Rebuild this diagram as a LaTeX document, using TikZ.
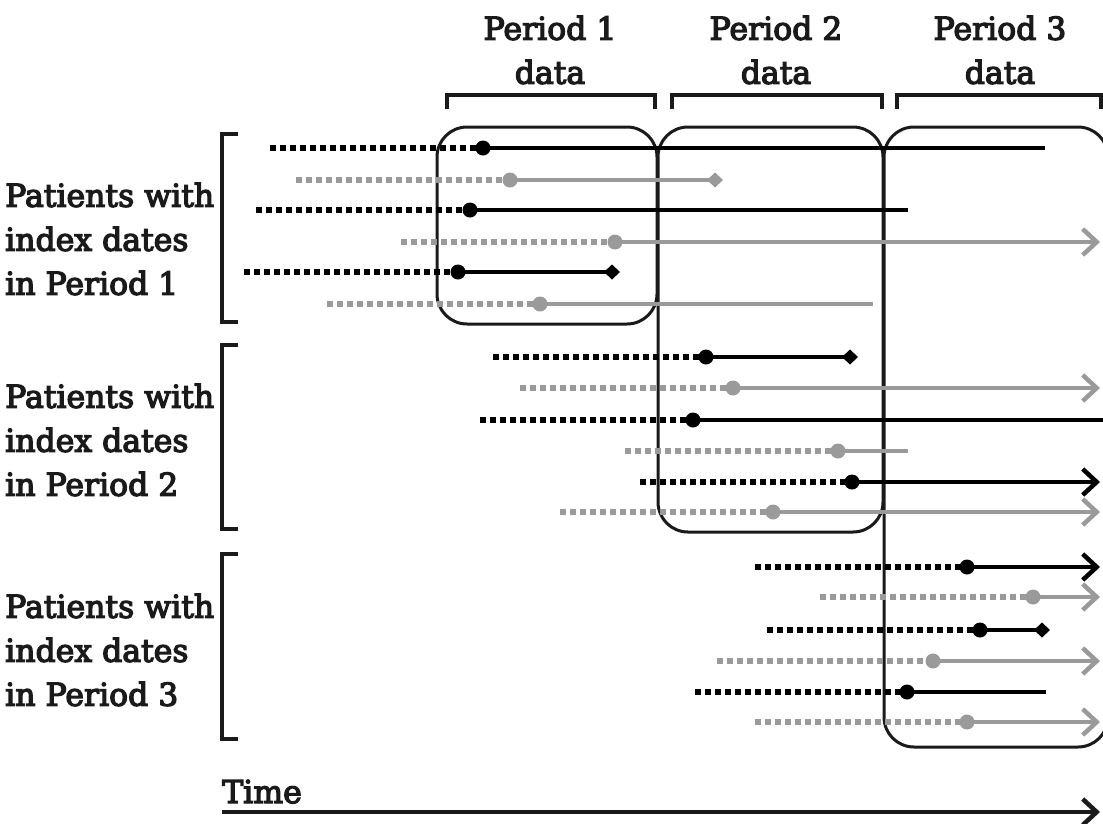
\documentclass[tikz,border=0pt]{standalone}
\usepackage{fontspec}
\setmainfont{DejaVu Serif}[FakeBold=4]
\usetikzlibrary{arrows.meta}
\definecolor{ink}{HTML}{1A1A1A}
\definecolor{lgray}{HTML}{9A9A9A}
\tikzset{
  box/.style={draw=ink, line width=3pt, rounded corners=30pt},
  brk/.style={draw=ink, line width=4pt},
  lbl/.style={font=\fontsize{31.5}{44}\selectfont, text=ink, inner sep=0pt, align=left},
  toplbl/.style={font=\fontsize{31.5}{44}\selectfont, text=ink, inner sep=0pt, align=center},
  dotline/.style={line width=5.5pt, dash pattern=on 5.5pt off 4.5pt},
  solidline/.style={line width=4.5pt},
  blk/.style={color=black},
  gry/.style={color=lgray},
  plainend/.style={},
  arrowend/.style={-{Straight Barb[length=14pt,width=26pt,line width=4.5pt]}},
  diamondend/.style={-{Diamond[length=16pt,width=15pt]}},
}
\begin{document}
\begin{tikzpicture}[x=1pt,y=-1pt]
\useasboundingbox (0,0) rectangle (1103,823);
\begin{scope}
\clip (0,0) rectangle (1103,823);
% period boxes
\draw[box] (437,127) rectangle (657,324);
\draw[box] (658,127) rectangle (883,532);
\draw[box] (884,127) rectangle (1108,747);
% top brackets
\draw[brk] (447,109) -- (447,95) -- (655,95) -- (655,109);
\draw[brk] (672,109) -- (672,95) -- (882,95) -- (882,109);
\draw[brk] (897,109) -- (897,95) -- (1101,95) -- (1101,109);
% left brackets
\draw[brk] (238,134) -- (222,134) -- (222,322) -- (238,322);
\draw[brk] (238,345) -- (222,345) -- (222,529) -- (238,529);
\draw[brk] (238,554) -- (222,554) -- (222,739) -- (238,739);
% rows
\foreach \y/\xs/\xd/\xe/\c/\tip [count=\i] in {
  148/270/483/1045/blk/plainend,
  180/296/510/723/gry/diamondend,
  210/256/470/908/blk/plainend,
  242/401/615/1100/gry/arrowend,
  272/244/458/620/blk/diamondend,
  304/327/540/873/gry/plainend,
  357/493/706/858/blk/diamondend,
  388/520/733/1100/gry/arrowend,
  420/480/693/1108/blk/plainend,
  451/625/838/908/gry/plainend,
  482/640/852/1100/blk/arrowend,
  512/560/773/1100/gry/arrowend,
  567/755/967/1100/blk/arrowend,
  597/820/1033/1100/gry/arrowend,
  630/767/980/1050/blk/diamondend,
  661/717/933/1100/gry/arrowend,
  692/695/907/1046/blk/plainend,
  722/755/967/1100/gry/arrowend}{
  \coordinate (s\i) at (\xs,\y);
  \coordinate (d\i) at (\xd,\y);
  \coordinate (e\i) at (\xe,\y);
  \draw[dotline,\c] (s\i) -- (d\i);
  \draw[solidline,\c,\tip] (d\i) -- (e\i);
  \fill[\c] (d\i) circle (7.5pt);
}
\end{scope}
% labels
\node[toplbl] (p1) at (550,50) {Period 1\\data};
\node[toplbl] (p2) at (776,50) {Period 2\\data};
\node[toplbl] (p3) at (1000,50) {Period 3\\data};
\node[lbl, anchor=west] (g1) at (5,239) {Patients with\\index dates\\in Period 1};
\node[lbl, anchor=west] (g2) at (5,440) {Patients with\\index dates\\in Period 2};
\node[lbl, anchor=west] (g3) at (5,650) {Patients with\\index dates\\in Period 3};
\node[lbl, anchor=base west] (time) at (222,803) {Time};
\coordinate (t0) at (222,812);
\coordinate (t1) at (1100,812);
\draw[brk, -{Straight Barb[length=14pt,width=26pt,line width=4.5pt]}] (t0) -- (t1);
\end{tikzpicture}
\end{document}
